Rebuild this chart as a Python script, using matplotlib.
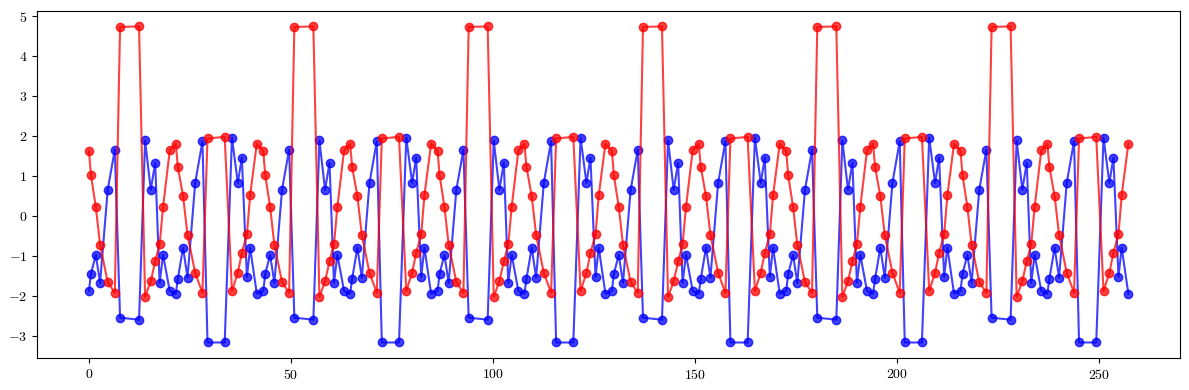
import numpy as np
import matplotlib
matplotlib.use("Agg")
import matplotlib.pyplot as plt

plt.rcParams['font.family'] = 'serif'
plt.rcParams['font.serif'] = ['cmr10']
plt.rcParams['mathtext.fontset'] = 'cm'
plt.rcParams['axes.formatter.use_mathtext'] = True

# one cycle of the signal (the picture repeats it)
cycle_x = [0.0, 0.5, 1.7, 2.75, 4.65, 6.4, 7.7, 12.4, 13.9, 15.3,
           16.4, 17.5, 18.35, 20.0, 21.5, 22.0, 23.3, 24.4, 26.3, 28.1,
           29.35, 33.6, 35.4, 36.85, 37.85, 39.1, 39.9, 41.55]
cycle_red = [1.63, 1.02, 0.23, -0.72, -1.65, -1.92, 4.73, 4.74, -2.02, -1.63,
             -1.13, -0.71, 0.23, 1.64, 1.81, 1.23, 0.50, -0.47, -1.42, -1.92,
             1.94, 1.98, -1.87, -1.42, -0.92, -0.46, 0.52, 1.81]
cycle_blue = [-1.87, -1.44, -0.97, -1.67, 0.66, 1.66, -2.54, -2.59, 1.89, 0.66,
              1.33, -1.67, -0.97, -1.87, -1.94, -1.57, -0.79, -1.54, 0.83, 1.87,
              -3.16, -3.16, 1.96, 0.83, 1.46, -1.52, -0.79, -1.94]
period = 43.15
n_cycles = 6

x = np.concatenate([np.array(cycle_x) + k * period for k in range(n_cycles)])
red = np.tile(cycle_red, n_cycles)
blue = np.tile(cycle_blue, n_cycles)

fig, ax = plt.subplots(figsize=(11.89, 3.9), dpi=100)
ax.plot(x, blue, 'o-', color='blue', alpha=0.75, markersize=6, linewidth=1.5)
ax.plot(x, red, 'o-', color='red', alpha=0.75, markersize=6, linewidth=1.5)

fig.subplots_adjust(left=0.0311, right=0.9927, top=0.9726, bottom=0.0813)
fig.savefig("out.png", dpi=100)
